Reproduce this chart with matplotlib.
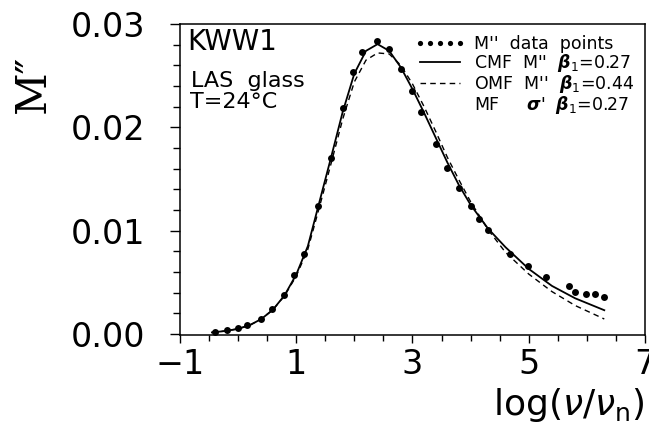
# -*- coding: utf-8 -*-
"""M'' modulus spectrum of LAS glass with KWW1 fits."""

import numpy as np
import matplotlib
matplotlib.use("Agg")
import matplotlib.pyplot as plt
from matplotlib.lines import Line2D
from matplotlib.ticker import MultipleLocator, FormatStrFormatter

# 数据点 M'' (log(nu/nu_n), M'')
data_x = [-0.40, -0.19, 0.00, 0.15, 0.39, 0.59, 0.79, 0.96, 1.14, 1.38,
          1.60, 1.81, 1.98, 2.13, 2.39, 2.59, 2.80, 2.99, 3.14, 3.40,
          3.60, 3.80, 4.00, 4.14, 4.30, 4.68, 4.99, 5.29, 5.69, 5.80,
          5.99, 6.14, 6.29]
data_y = [0.00022, 0.00036, 0.00055, 0.00084, 0.00148, 0.00239, 0.00380, 0.00568,
          0.00774, 0.01242, 0.01703, 0.02190, 0.02538, 0.02726, 0.02836, 0.02755,
          0.02562, 0.02355, 0.02151, 0.01839, 0.01604, 0.01410, 0.01242, 0.01116,
          0.01004, 0.00774, 0.00661, 0.00555, 0.00465, 0.00409, 0.00384, 0.00390,
          0.00361]

# 拟合曲线 (单位 1e-3)
fit_x = [-0.45, -0.2, 0.0, 0.2, 0.4, 0.6, 0.8, 1.0, 1.2, 1.4, 1.6, 1.8, 2.0,
         2.2, 2.4, 2.6, 2.8, 3.0, 3.2, 3.4, 3.6, 3.8, 4.0, 4.3, 4.6, 5.0,
         5.4, 5.8, 6.3]
cmf_y = [0.15, 0.30, 0.50, 0.85, 1.45, 2.35, 3.75, 5.75, 8.5, 12.8, 17.1, 21.5,
         25.2, 27.4, 28.05, 27.4, 25.8, 23.7, 21.4, 19.0, 16.6, 14.4, 12.5, 10.2,
         8.4, 6.3, 4.65, 3.45, 2.3]
omf_y = [0.15, 0.30, 0.50, 0.85, 1.45, 2.35, 3.70, 5.6, 8.2, 12.3, 16.5, 20.8,
         24.4, 26.5, 27.2, 27.1, 26.0, 24.2, 22.0, 19.6, 17.1, 14.9, 12.8, 10.1,
         7.9, 5.8, 4.1, 2.75, 1.45]

legend_labels = ["M''  data  points",
                 r"CMF  M''  $\boldsymbol{\beta}_1$=0.27",
                 r"OMF  M''  $\boldsymbol{\beta}_1$=0.44",
                 r"MF     $\boldsymbol{\sigma}$'  $\boldsymbol{\beta}_1$=0.27"]

plt.rcParams['font.family'] = ['DejaVu Sans']
plt.rcParams['mathtext.fontset'] = 'dejavusans'

fig = plt.figure(figsize=(6.49, 4.34), dpi=100)
ax = fig.add_axes([0.2773, 0.2281, 0.7165, 0.7166])

cmf_line, = ax.plot(fit_x, np.array(cmf_y) * 1e-3, "-", color="black", lw=1.3)
omf_line, = ax.plot(fit_x, np.array(omf_y) * 1e-3, "--", color="black", lw=1.0,
                    dashes=(4, 3))
pts, = ax.plot(data_x, data_y, "o", color="black", ms=5, mew=0)

ax.set_xlim(-1, 7)
ax.set_ylim(-0.0001, 0.03)

# 坐标轴刻度
ax.xaxis.set_minor_locator(MultipleLocator(0.5))
ax.yaxis.set_major_locator(MultipleLocator(0.01))
ax.yaxis.set_minor_locator(MultipleLocator(0.002))
ax.yaxis.set_major_formatter(FormatStrFormatter('%.2f'))
ax.set_xticks([-1, 1, 3, 5, 7])
ax.tick_params(axis='both', which='major', direction='out', labelsize=24, width=1.0)
ax.tick_params(axis='x', which='major', length=6, pad=3)
ax.tick_params(axis='y', which='major', length=7, pad=18)
ax.tick_params(axis='x', which='minor', direction='out', length=4, width=1.0)
ax.tick_params(axis='y', which='minor', direction='out', length=5, width=1.0)
for s in ax.spines.values():
    s.set_linewidth(1.1)

# 轴标签
fig.text(33 / 649, 1 - 84 / 434, "M\u2033", family="DejaVu Serif", fontsize=30,
         rotation=90, ha='center', va='center')
ax.set_xlabel(r"log($\nu/\nu_{\mathsf{n}}$)", fontsize=26, ha='right')
ax.xaxis.set_label_coords(1.0, -0.165)

# 文字说明
ax.text(0.015, 0.987, "KWW1", transform=ax.transAxes, fontsize=20, va='top', ha='left')
ax.text(0.024, 0.849, "LAS  glass", transform=ax.transAxes, fontsize=16, va='top', ha='left')
ax.text(0.022, 0.781, "T=24\u00b0C", transform=ax.transAxes, fontsize=16, va='top', ha='left')

# 图例
blank = Line2D([], [], linestyle='none')
ax.legend([pts, cmf_line, omf_line, blank], legend_labels, loc='upper left',
          bbox_to_anchor=(0.505, 0.965), frameon=False, fontsize=12.5, numpoints=5,
          markerscale=0.75, handlelength=2.9, handletextpad=0.5, labelspacing=-0.05,
          borderpad=0, borderaxespad=0)

fig.savefig("out.png", dpi=100)
